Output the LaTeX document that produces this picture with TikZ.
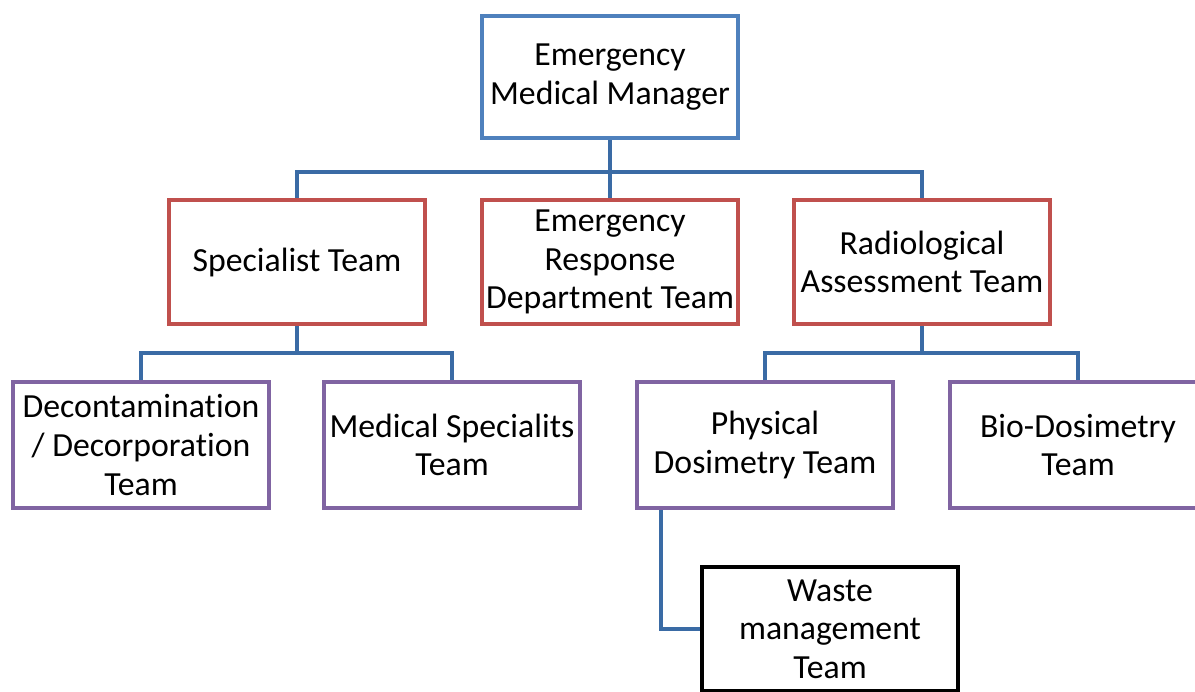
\documentclass[tikz,border=0pt]{standalone}
\usepackage{fontspec}
\setmainfont[Ligatures=NoCommon]{Carlito}
\definecolor{boxblue}{HTML}{4F81BD}
\definecolor{linkblue}{HTML}{3A6BA5}
\definecolor{boxred}{HTML}{C0504D}
\definecolor{boxpurple}{HTML}{8064A2}
\tikzset{
  team/.style={draw, line width=0.1cm, minimum width=6.4cm, minimum height=3.1cm,
    align=center, inner sep=2pt, font=\fontsize{24}{27.5}\selectfont},
  head/.style={team, draw=boxblue, minimum height=3.05cm},
  lead/.style={team, draw=boxred},
  unit/.style={team, draw=boxpurple, minimum height=3.15cm},
  link/.style={draw=linkblue, line width=0.09cm},
}
\begin{document}
\begin{tikzpicture}[x=0.025cm, y=-0.025cm]
      \useasboundingbox (0,0) rectangle (1195,691);
      \node [head] (emm) at (610,77) {Emergency\\Medical Manager};
      \node [lead] (spec) at (297,262) {Specialist Team};
      \node [lead] (erd) at (610,262) {Emergency\\Response\\Department Team};
      \node [lead] (rat) at (922,262) {Radiological\\Assessment Team};
      \node [unit] (decon) at (141,445) {Decontamination\\/ Decorporation\\Team};
      \node [unit] (medspec) at (452,445) {Medical Specialits\\Team};
      \node [unit] (phys) at (765,445) {Physical\\Dosimetry Team};
      \node [unit] (bio) at (1078,445) {Bio-Dosimetry\\Team};
      \node [team, line width=0.12cm] (waste) at (830,629) {Waste\\management\\Team};
      \coordinate (topbus) at (610,172);
      \coordinate (leftbus) at (297,353);
      \coordinate (rightbus) at (922,353);
      \draw [link] (emm.south) -- (erd.north);
      \draw [link] (spec.north) |- (topbus) -| (rat.north);
      \draw [link] (spec.south) -- (leftbus);
      \draw [link] (decon.north) |- (leftbus) -| (medspec.north);
      \draw [link] (rat.south) -- (rightbus);
      \draw [link] (phys.north) |- (rightbus) -| (bio.north);
      \draw [link] ([xshift=0.65cm]phys.south west) |- (waste.west);
    \end{tikzpicture}
\end{document}
